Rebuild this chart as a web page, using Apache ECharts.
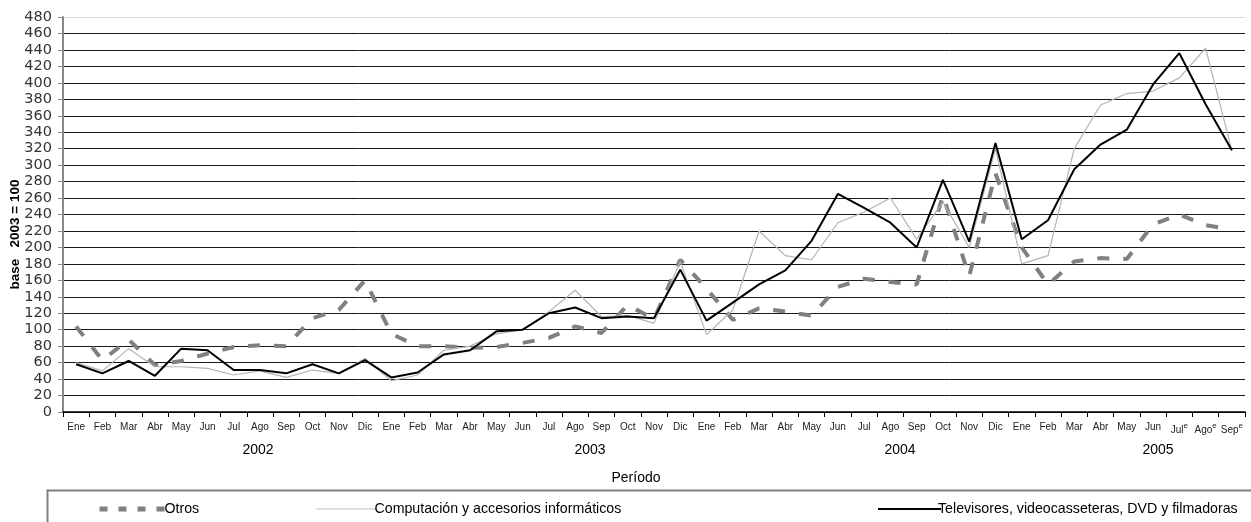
<!DOCTYPE html>
<html>
<head>
<meta charset="utf-8">
<script src="https://cdn.jsdelivr.net/npm/echarts@6/dist/echarts.min.js"></script>
<style>html,body{margin:0;padding:0;background:#fff;}#c{width:1251px;height:522px;}</style>
</head>
<body>
<div id="c"></div>
<script>
const months = ['Ene','Feb','Mar','Abr','May','Jun','Jul','Ago','Sep','Oct','Nov','Dic'];
const years = ['2002','2003','2004','2005'];
const estimated = ['2005-Jul','2005-Ago','2005-Sep'];
const yTicks = [0,20,40,60,80,100,120,140,160,180,200,220,240,260,280,300,320,340,360,380,400,420,440,460,480];

const otros = [104,63,88,57,62,71,79,81,80,114,124,160,
               95,80,80,78,79,84,90,104,96,130,113,185,
               150,112,126,122,117,152,162,158,155,263,165,290,
               200,155,183,187,186,228,240,227,222];
const computacion = [60,50,77,55,55,53,45,50,42,51,47,65,
                     38,45,75,80,95,100,122,148,116,117,108,183,
                     94,124,220,190,185,230,243,260,210,255,200,320,
                     180,190,320,373,387,390,406,442,318];
const televisores = [58,47,62,44,77,75,51,51,47,58,47,63,
                     42,48,70,75,98,100,120,127,114,116,114,173,
                     111,133,155,172,208,265,248,230,200,282,207,327,
                     210,233,295,325,343,398,436,374,318];

const seriesNames = ['Otros','Computación y accesorios informáticos','Televisores, videocasseteras, DVD y filmadoras'];

const categories = [];
years.forEach(y => months.forEach(m => { if (categories.length < otros.length) categories.push(y + '-' + m); }));

const yearLabelX = [258, 590, 900, 1158];

const chart = echarts.init(document.getElementById('c'), null, {renderer:'canvas'});
const gridColors = yTicks.map((v,i) => i === yTicks.length - 1 ? '#dcdcdc' : '#1a1a1a');

const legendText = {fontFamily: 'Liberation Sans', fontSize: 14.2, color: '#000', padding: [0,0,0,-8]};

chart.setOption({
  animation: false,
  grid: {left: 63, right: 6, top: 17, bottom: 110, containLabel: false, outerBoundsMode: 'none'},
  xAxis: {
    type: 'category',
    data: categories,
    boundaryGap: true,
    axisLine: {lineStyle: {color: '#000', width: 1.5}},
    axisTick: {show: true, length: 5, lineStyle: {color: '#000'}, alignWithLabel: false},
    axisLabel: {
      interval: 0, margin: 10, color: '#222', fontFamily: 'Liberation Sans', fontSize: 10,
      formatter: v => {
        const m = v.split('-')[1];
        return estimated.indexOf(v) >= 0 ? m + '{e|e}' : m;
      },
      rich: {e: {fontSize: 8, verticalAlign: 'top', padding: [0,0,8,0], color:'#222', fontFamily:'Liberation Sans'}}
    },
    splitLine: {show: false}
  },
  yAxis: {
    type: 'value', min: 0, max: 480, interval: 20,
    name: 'base   2003 = 100', nameLocation: 'middle', nameGap: 41, nameRotate: 90, nameMoveOverlap: false,
    nameTextStyle: {fontFamily: 'Liberation Sans', fontWeight: 'bold', fontSize: 13.5, color: '#000', padding: [0, 40, 0, 0]},
    axisLine: {show: true, lineStyle: {color: '#888', width: 2}},
    axisTick: {show: true, length: 5, lineStyle: {color: '#888'}},
    axisLabel: {color: '#333', fontFamily: 'DejaVu Sans', fontSize: 14.5, margin: 11},
    splitLine: {show: true, lineStyle: {color: gridColors, width: 1}}
  },
  legend: [
    {data: [seriesNames[0]], left: 92, top: 497, itemWidth: 68, itemHeight: 14, itemGap: 0,
     itemStyle: {opacity: 0}, lineStyle: {color: '#808080', width: 5, type: [8, 11]}, textStyle: legendText},
    {data: [seriesNames[1]], left: 310, top: 497, itemWidth: 62, itemHeight: 14, itemGap: 0,
     itemStyle: {opacity: 0}, lineStyle: {color: '#c0c0c0', width: 1}, textStyle: legendText},
    {data: [seriesNames[2]], left: 872, top: 497, itemWidth: 63, itemHeight: 14, itemGap: 0,
     itemStyle: {opacity: 0}, lineStyle: {color: '#000', width: 2}, textStyle: legendText}
  ],
  graphic: [
    {type: 'rect', left: 45, top: 488, shape: {width: 1260, height: 60}, silent: true,
     style: {fill: 'none', stroke: '#808080', lineWidth: 2}},
    ...years.map((y,i) => ({type: 'text', x: yearLabelX[i], y: 450, silent: true,
      style: {text: y, font: '14px "Liberation Sans"', fill: '#000', textAlign: 'center', textVerticalAlign: 'middle'}})),
    {type: 'text', x: 636, y: 478, silent: true,
     style: {text: 'Período', font: '14px "Liberation Sans"', fill: '#000', textAlign: 'center', textVerticalAlign: 'middle'}}
  ],
  series: [
    {name: seriesNames[0], type: 'line', data: otros, symbol: 'none', z: 2,
     lineStyle: {color: '#808080', width: 4, type: [12,14]}, itemStyle: {color: '#808080'}},
    {name: seriesNames[1], type: 'line', data: computacion, symbol: 'none', z: 3,
     lineStyle: {color: '#b4b4b4', width: 1.2}, itemStyle: {color: '#b4b4b4'}},
    {name: seriesNames[2], type: 'line', data: televisores, symbol: 'none', z: 4,
     lineStyle: {color: '#000', width: 2}, itemStyle: {color: '#000'}}
  ]
});
</script>
</body>
</html>
